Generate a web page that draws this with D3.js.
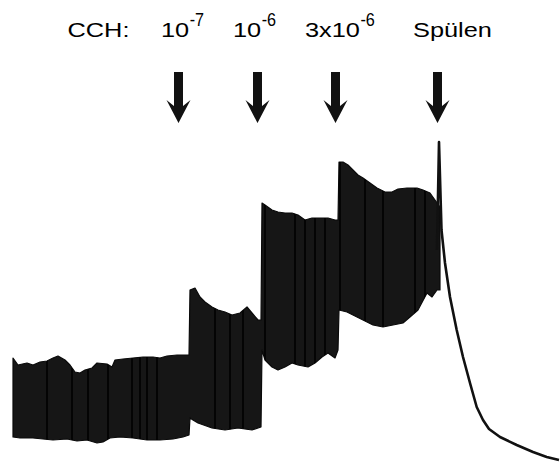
<!DOCTYPE html>
<html>
<head>
<meta charset="utf-8">
<script src="https://cdn.jsdelivr.net/npm/d3@7"></script>
<style>
  body { margin: 0; background: #fff; }
  text { font-family: "Liberation Sans", Arial, sans-serif; fill: #000; }
</style>
</head>
<body>
<svg id="chart" width="560" height="463"></svg>
<script>
// time in arbitrary units, force in arbitrary units (0 = baseline after washout)
const doseBase = ["10", "10", "3x10", "Spülen"];
const doseExp = ["-7", "-6", "-6", ""];
const doseTimes = [165, 244, 322, 424];

// upper edge of the oscillating contraction band [time, force]
const upperEdge = [
    [0, 102], [5, 95], [14, 97], [20, 95], [27, 98], [34, 99], [40, 102], [45, 104], [52, 100],
    [57, 95], [62, 88], [67, 87], [72, 90], [79, 92], [84, 97], [94, 96], [99, 93], [102, 100],
    [110, 101], [120, 102], [130, 103], [140, 103], [147, 102], [154, 104], [164, 105], [176, 105],
    [177, 170], [182, 172], [187, 163], [192, 158], [199, 153], [205, 150], [212, 148], [219, 145],
    [227, 147], [234, 153], [239, 147], [245, 140], [248, 140],
    [249, 257], [252, 255], [259, 250], [265, 248], [272, 247], [279, 247], [285, 245], [292, 240],
    [299, 242], [305, 242], [315, 242], [322, 240], [325, 240],
    [326, 298], [330, 298], [335, 295], [340, 290], [345, 285], [350, 282], [357, 277], [364, 272],
    [372, 268], [379, 268], [385, 271], [394, 272], [404, 272], [410, 270], [417, 267], [422, 260], [427, 253]
];

// lower edge of the band [time, force]
const lowerEdge = [
    [0, 23], [7, 22], [20, 22], [30, 21], [40, 20], [54, 21], [64, 19], [74, 20], [84, 17], [90, 18],
    [97, 22], [107, 23], [120, 22], [134, 20], [147, 20], [160, 21], [170, 23], [176, 25],
    [177, 42], [180, 40], [185, 37], [199, 32], [212, 30], [225, 32], [239, 30], [248, 33],
    [249, 110], [252, 100], [259, 93], [265, 90], [272, 93], [279, 97], [285, 95], [295, 93],
    [302, 97], [309, 103], [315, 107], [322, 102], [325, 110],
    [326, 150], [334, 148], [340, 145], [350, 140], [360, 135], [370, 133], [380, 135], [390, 137],
    [397, 143], [405, 150], [414, 167], [419, 163], [424, 170], [427, 170]
];

// washout: spike then relaxation [time, force]
const washoutTrace = [
    [424, 210], [426, 318], [428.5, 230], [432, 197], [437, 163], [443.7, 130], [450, 103],
    [457, 77], [463.7, 53], [470, 40], [476, 31], [487, 23], [503.7, 15], [520, 8], [533.7, 3], [546, 0]
];

// darker single-twitch streaks inside the band
const streakTimes = [34, 59, 75, 95, 119, 127, 134, 144, 202, 217, 230, 252, 282, 292, 302, 312, 327, 352, 370, 402, 412];

const svg = d3.select("#chart");

const x = d3.scaleLinear().domain([0, 547]).range([13, 560]);
const y = d3.scaleLinear().domain([0, 330]).range([460, 130]);

const line = d3.line()
    .x(d => x(d[0]))
    .y(d => y(d[1]));

// band outline: upper edge forward, lower edge back
const outline = upperEdge.concat(lowerEdge.slice().reverse());

svg.append("clipPath")
    .attr("id", "bandClip")
    .append("path")
    .attr("d", line(outline) + "Z");

svg.append("path")
    .attr("d", line(outline) + "Z")
    .attr("fill", "#161616")
    .attr("stroke", "#0a0a0a")
    .attr("stroke-width", 1.2)
    .attr("stroke-linejoin", "round");

svg.append("g")
    .attr("clip-path", "url(#bandClip)")
    .selectAll("line")
    .data(streakTimes)
    .join("line")
    .attr("x1", d => x(d))
    .attr("x2", d => x(d))
    .attr("y1", y(330))
    .attr("y2", y(0))
    .attr("stroke", "#000")
    .attr("stroke-width", 1.6);

svg.append("path")
    .attr("d", line(washoutTrace))
    .attr("fill", "none")
    .attr("stroke", "#111")
    .attr("stroke-width", 2.6)
    .attr("stroke-linejoin", "round");

// arrows
const arrowShape = "M-4.5,0 L4.5,0 L4.5,34 L12,28 L0,51 L-12,28 L-4.5,34 Z";
svg.selectAll(".arrow")
    .data(doseTimes)
    .join("path")
    .attr("class", "arrow")
    .attr("d", arrowShape)
    .attr("transform", d => `translate(${x(d) + 0.5},72)`)
    .attr("fill", "#111");

// labels
const stretch = 1.3;
const baseY = 37;

svg.append("text")
    .attr("transform", `translate(67.5,${baseY}) scale(${stretch},1)`)
    .attr("font-size", 19.5)
    .text("CCH:");

const labelShift = [-17, -24, -30, -24];

doseBase.forEach((label, i) => {
    const g = svg.append("g")
        .attr("transform", `translate(${x(doseTimes[i]) + labelShift[i]},${baseY})`);
    const t = g.append("text")
        .attr("transform", `scale(${stretch},1)`)
        .attr("font-size", 19.5)
        .text(label);
    if (doseExp[i]) {
        const w = t.node().getComputedTextLength() * stretch;
        g.append("text")
            .attr("transform", `translate(${w + 0.5},-11) scale(0.9,1)`)
            .attr("font-size", 18)
            .text(doseExp[i]);
    }
});
</script>
</body>
</html>
